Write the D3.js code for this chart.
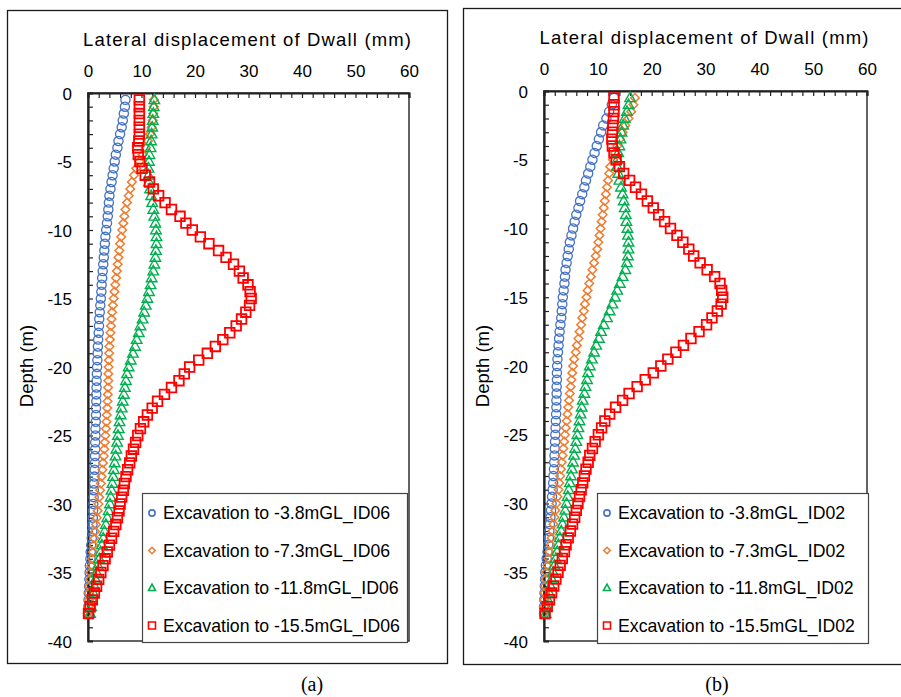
<!DOCTYPE html>
<html>
<head>
<meta charset="utf-8">
<script src="https://cdn.jsdelivr.net/npm/d3@7/dist/d3.min.js"></script>
<style>
  html, body { margin: 0; padding: 0; background: #fff; }
  svg { display: block; }
</style>
</head>
<body>
<svg id="chart" width="901" height="697"></svg>
<script>
// ---------------- data ----------------
const depth = [-0.5,-1,-1.5,-2,-2.5,-3,-3.5,-4,-4.5,-5,
  -5.5,-6,-6.5,-7,-7.5,-8,-8.5,-9,-9.5,-10,
  -10.5,-11,-11.5,-12,-12.5,-13,-13.5,-14,-14.5,-15,
  -15.5,-16,-16.5,-17,-17.5,-18,-18.5,-19,-19.5,-20,
  -20.5,-21,-21.5,-22,-22.5,-23,-23.5,-24,-24.5,-25,
  -25.5,-26,-26.5,-27,-27.5,-28,-28.5,-29,-29.5,-30,
  -30.5,-31,-31.5,-32,-32.5,-33,-33.5,-34,-34.5,-35,
  -35.5,-36,-36.5,-37,-37.5,-38];

// Panel (a) ID06
const id06_38 = [7.0,6.9,6.7,6.5,6.3,6.0,5.7,5.5,5.2,5.0,
  4.8,4.6,4.4,4.2,4.0,3.9,3.8,3.7,3.55,3.4,
  3.25,3.15,3.05,2.95,2.85,2.75,2.65,2.55,2.5,2.4,
  2.3,2.2,2.1,2.05,2.0,1.9,1.85,1.8,1.75,1.7,
  1.65,1.6,1.6,1.55,1.55,1.5,1.5,1.45,1.4,1.4,
  1.35,1.35,1.3,1.3,1.25,1.2,1.15,1.1,1.05,1.0,
  0.95,0.9,0.85,0.8,0.7,0.6,0.5,0.45,0.35,0.3,
  0.25,0.2,0.15,0.1,0.05,0.0];
const id06_73 = [12.3,12.3,12.2,12.1,11.9,11.6,11.2,10.8,10.2,9.6,
  9.0,8.6,8.2,7.9,7.6,7.3,7.0,6.8,6.6,6.4,
  6.2,6.0,5.85,5.7,5.55,5.4,5.25,5.1,4.95,4.8,
  4.65,4.5,4.4,4.3,4.2,4.1,4.0,3.95,3.9,3.85,
  3.8,3.8,3.75,3.7,3.65,3.6,3.5,3.45,3.35,3.25,
  3.15,3.05,2.95,2.8,2.7,2.55,2.4,2.25,2.1,1.95,
  1.8,1.65,1.5,1.35,1.2,1.05,0.9,0.75,0.6,0.45,
  0.35,0.25,0.15,0.1,0.05,0.0];
const id06_118 = [12.4,12.3,12.2,12.1,12.0,11.9,11.8,11.7,11.5,11.4,
  11.3,11.3,11.4,11.6,11.8,12.0,12.2,12.4,12.6,12.7,
  12.8,12.8,12.7,12.6,12.4,12.2,11.9,11.7,11.4,11.1,
  10.8,10.5,10.2,9.8,9.5,9.1,8.8,8.4,8.0,7.6,
  7.3,7.1,6.9,6.7,6.5,6.3,6.1,5.9,5.75,5.6,
  5.45,5.3,5.15,5.0,4.85,4.7,4.55,4.4,4.25,4.1,
  3.85,3.6,3.35,3.1,2.85,2.6,2.35,2.1,1.85,1.6,
  1.4,1.2,1.0,0.8,0.6,0.4];
const id06_155 = [9.6,9.6,9.6,9.6,9.6,9.6,9.5,9.3,9.4,9.7,
  10.1,10.7,11.5,12.2,13.2,14.4,15.6,17.2,18.3,19.5,
  21.0,22.6,24.4,25.8,27.2,28.3,29.0,29.9,30.3,30.5,
  30.2,29.5,28.7,27.7,26.5,25.2,23.8,22.3,20.7,19.0,
  18.0,17.0,15.6,14.3,13.0,12.0,11.1,10.4,9.8,9.3,
  8.9,8.5,8.1,7.8,7.4,7.1,6.8,6.6,6.3,6.0,
  5.8,5.5,5.2,4.8,4.4,4.0,3.6,3.2,2.8,2.4,
  2.0,1.6,1.2,0.8,0.4,0.1];

// Panel (b) ID02
const id02_38 = [13.0,12.6,12.1,11.6,11.0,10.6,10.2,9.8,9.4,9.0,
  8.6,8.2,7.8,7.5,7.1,6.7,6.4,6.0,5.7,5.4,
  5.1,4.8,4.6,4.4,4.2,4.0,3.9,3.8,3.65,3.5,
  3.4,3.3,3.2,3.05,2.9,2.8,2.7,2.6,2.5,2.45,
  2.4,2.4,2.35,2.35,2.3,2.3,2.25,2.2,2.15,2.1,
  2.05,2.0,1.95,1.9,1.85,1.75,1.7,1.6,1.5,1.4,
  1.3,1.2,1.1,1.0,0.9,0.8,0.65,0.5,0.35,0.25,
  0.2,0.15,0.1,0.05,0.0,0.0];
const id02_73 = [16.9,16.6,16.2,15.7,15.1,14.6,14.1,13.6,13.2,12.8,
  12.3,12.1,11.9,11.7,11.5,11.3,11.1,10.9,10.7,10.5,
  10.3,10.1,9.9,9.6,9.3,9.0,8.7,8.4,8.1,7.9,
  7.6,7.4,7.1,6.9,6.6,6.4,6.1,5.9,5.6,5.4,
  5.25,5.1,4.95,4.8,4.65,4.5,4.35,4.2,4.05,3.9,
  3.75,3.6,3.45,3.3,3.15,3.0,2.85,2.7,2.5,2.3,
  2.1,1.95,1.75,1.6,1.4,1.2,1.0,0.8,0.6,0.4,
  0.3,0.2,0.1,0.05,0.0,0.0];
const id02_118 = [16.0,15.7,15.4,15.0,14.7,14.4,14.2,14.0,13.8,13.6,
  13.6,13.8,14.0,14.3,14.6,14.8,15.0,15.2,15.3,15.5,
  15.6,15.7,15.7,15.6,15.4,15.1,14.6,14.1,13.6,13.2,
  12.7,12.2,11.7,11.1,10.6,10.2,9.7,9.3,8.9,8.5,
  8.2,8.0,7.7,7.5,7.2,7.0,6.8,6.6,6.4,6.2,
  6.0,5.8,5.6,5.4,5.2,5.0,4.8,4.6,4.4,4.2,
  3.95,3.7,3.45,3.2,2.95,2.7,2.45,2.2,1.95,1.7,
  1.45,1.2,0.95,0.7,0.5,0.3];
const id02_155 = [13.0,13.0,13.0,12.9,12.8,12.7,12.6,12.7,13.0,13.4,
  14.0,14.8,15.9,17.0,18.1,19.2,20.3,21.3,22.4,23.5,
  24.7,25.8,26.9,27.8,29.0,30.3,31.7,32.7,33.0,33.2,
  32.9,32.2,31.2,30.2,28.8,27.3,25.9,24.5,23.0,21.7,
  20.3,18.8,17.3,15.8,14.6,13.3,12.2,11.3,10.7,10.1,
  9.5,9.0,8.5,8.2,7.8,7.5,7.2,6.9,6.6,6.3,
  6.0,5.7,5.3,4.9,4.5,4.1,3.8,3.4,3.0,2.6,
  2.2,1.8,1.4,1.0,0.6,0.2];

const stages = ["-3.8mGL", "-7.3mGL", "-11.8mGL", "-15.5mGL"];
const xTicks = [0, 10, 20, 30, 40, 50, 60];
const yTicks = [0, -5, -10, -15, -20, -25, -30, -35, -40];
const xMinorTicks = [0,2,4,6,8,10,12,14,16,18,20,22,24,26,28,30,32,34,36,38,40,42,44,46,48,50,52,54,56,58,60];
const yMinorTicks = [0,-1,-2,-3,-4,-5,-6,-7,-8,-9,-10,-11,-12,-13,-14,-15,-16,-17,-18,-19,-20,
  -21,-22,-23,-24,-25,-26,-27,-28,-29,-30,-31,-32,-33,-34,-35,-36,-37,-38,-39,-40];

const xTitle = "Lateral displacement of Dwall (mm)";
const yTitle = "Depth (m)";

// ---------------- drawing ----------------
const SANS = "'Liberation Sans', Arial, sans-serif";
const SERIF = "'Liberation Serif', 'Times New Roman', serif";
const svg = d3.select("#chart");

const styles = [
  { shape: "circle",   color: "#4472C4" },
  { shape: "diamond",  color: "#ED7D31" },
  { shape: "triangle", color: "#00B050" },
  { shape: "square",   color: "#FF0000" }
];

function markerPath(shape, s) {
  const h = s / 2;
  if (shape === "circle") {
    return `M${-h},0a${h},${h} 0 1,0 ${s},0a${h},${h} 0 1,0 ${-s},0Z`;
  }
  if (shape === "diamond") {
    return `M0,${-h}L${h},0L0,${h}L${-h},0Z`;
  }
  if (shape === "triangle") {
    const th = s * 0.9;
    return `M0,${-th*0.6}L${h},${th*0.4}L${-h},${th*0.4}Z`;
  }
  return `M${-h},${-h}H${h}V${h}H${-h}Z`;
}
const plotSizes = { circle: 9.2, diamond: 8.6, triangle: 10.5, square: 9.6 };
const plotStroke = { circle: 1.3, diamond: 1.5, triangle: 1.4, square: 1.8 };
const legSizes = { circle: 6.2, diamond: 6.4, triangle: 7.0, square: 7.0 };
const fmtTick = d => String(d);   // plain hyphen-minus like the original

function panel(cfg) {
  const g = svg.append("g");
  g.append("rect")
    .attr("x", cfg.frame[0] + 0.5).attr("y", cfg.frame[1] + 0.5)
    .attr("width", cfg.frame[2] - cfg.frame[0]).attr("height", cfg.frame[3] - cfg.frame[1])
    .attr("fill", "none").attr("stroke", "#1a1a1a").attr("stroke-width", 1.3);

  const x = d3.scaleLinear().domain([0, 60]).range([cfg.left, cfg.right]);
  const y = d3.scaleLinear().domain([0, -40]).range([cfg.top, cfg.bottom]);

  g.append("rect")
    .attr("x", cfg.left).attr("y", cfg.top)
    .attr("width", cfg.right - cfg.left).attr("height", cfg.bottom - cfg.top)
    .attr("fill", "none").attr("stroke", "#222").attr("stroke-width", 1.4);

  const xTickAxis = d3.axisTop(x).tickValues(xMinorTicks).tickSize(-5).tickFormat("");
  g.append("g").attr("transform", `translate(0,${cfg.top})`).call(xTickAxis)
    .call(s => s.select(".domain").attr("stroke", "#222").attr("stroke-width", 2.2))
    .call(s => s.selectAll(".tick line").attr("stroke", "#222").attr("stroke-width", 1.2));
  const yTickAxis = d3.axisLeft(y).tickValues(yMinorTicks).tickSize(-5).tickFormat("");
  g.append("g").attr("transform", `translate(${cfg.left},0)`).call(yTickAxis)
    .call(s => s.select(".domain").attr("stroke", "#222").attr("stroke-width", 2.2))
    .call(s => s.selectAll(".tick line").attr("stroke", "#222").attr("stroke-width", 1.2));

  const xLab = d3.axisTop(x).tickValues(xTicks).tickSize(0).tickPadding(cfg.top - cfg.xLabBase).tickFormat(fmtTick);
  g.append("g").attr("transform", `translate(0,${cfg.top})`).call(xLab)
    .attr("font-family", SANS).attr("font-size", 17)
    .call(s => s.select(".domain").remove())
    .call(s => s.selectAll("text").attr("fill", "#000").attr("dy", 0));
  const yLab = d3.axisLeft(y).tickValues(yTicks).tickSize(0).tickPadding(16).tickFormat(fmtTick);
  g.append("g").attr("transform", `translate(${cfg.left},0)`).call(yLab)
    .attr("font-family", SANS).attr("font-size", 17)
    .call(s => s.select(".domain").remove())
    .call(s => s.selectAll("text").attr("fill", "#000").attr("dy", "0.36em"));

  g.append("text")
    .attr("x", cfg.titleX).attr("y", cfg.titleY)
    .attr("text-anchor", "middle").attr("font-size", 18.5).attr("font-family", SANS)
    .attr("textLength", cfg.titleW).attr("lengthAdjust", "spacing")
    .text(xTitle);
  g.append("text")
    .attr("transform", `translate(${cfg.yTitleX},${cfg.yTitleY}) rotate(-90)`)
    .attr("text-anchor", "middle").attr("font-size", 18.5).attr("font-family", SANS)
    .text(yTitle);

  cfg.series.forEach((vals, i) => {
    const st = styles[i];
    const pts = depth.map((d, k) => ({ d, v: vals[k] }));
    g.append("g").selectAll("path").data(pts).join("path")
      .attr("transform", p => `translate(${x(p.v)},${y(p.d)})`)
      .attr("d", markerPath(st.shape, plotSizes[st.shape]))
      .attr("fill", "none").attr("stroke", st.color)
      .attr("stroke-width", plotStroke[st.shape]);
  });

  const L = cfg.legend;
  g.append("rect")
    .attr("x", L.x + 0.5).attr("y", L.y + 0.5).attr("width", L.w).attr("height", L.h)
    .attr("fill", "#fff").attr("stroke", "#444").attr("stroke-width", 1.2);
  stages.forEach((s, i) => {
    const st = styles[i];
    const cy = L.y + 20 + i * 37.5;
    g.append("path")
      .attr("transform", `translate(${L.x + 10},${cy})`)
      .attr("d", markerPath(st.shape, legSizes[st.shape]))
      .attr("fill", "none").attr("stroke", st.color).attr("stroke-width", 1.6);
    g.append("text")
      .attr("x", L.x + 21).attr("y", cy).attr("dy", "0.36em")
      .attr("font-size", 17.7).attr("font-family", SANS)
      .text(`Excavation to ${s}_${cfg.id}`);
  });

  g.append("text")
    .attr("x", cfg.labX).attr("y", 691)
    .attr("text-anchor", "middle")
    .attr("font-family", SERIF)
    .attr("font-size", 20)
    .text(cfg.label);
}

panel({
  id: "ID06", label: "(a)", labX: 312,
  frame: [7, 10, 447, 663],
  left: 88, right: 409, top: 93, bottom: 641,
  xLabBase: 77,
  titleX: 247, titleY: 46, titleW: 328,
  yTitleX: 33, yTitleY: 366,
  series: [id06_38, id06_73, id06_118, id06_155],
  legend: { x: 142, y: 493, w: 265, h: 149 }
});
panel({
  id: "ID02", label: "(b)", labX: 717,
  frame: [463, 8, 903, 664],
  left: 544, right: 867, top: 91, bottom: 641,
  xLabBase: 75,
  titleX: 704, titleY: 44, titleW: 329,
  yTitleX: 489, yTitleY: 366,
  series: [id02_38, id02_73, id02_118, id02_155],
  legend: { x: 597, y: 493, w: 271, h: 150 }
});
</script>
</body>
</html>
